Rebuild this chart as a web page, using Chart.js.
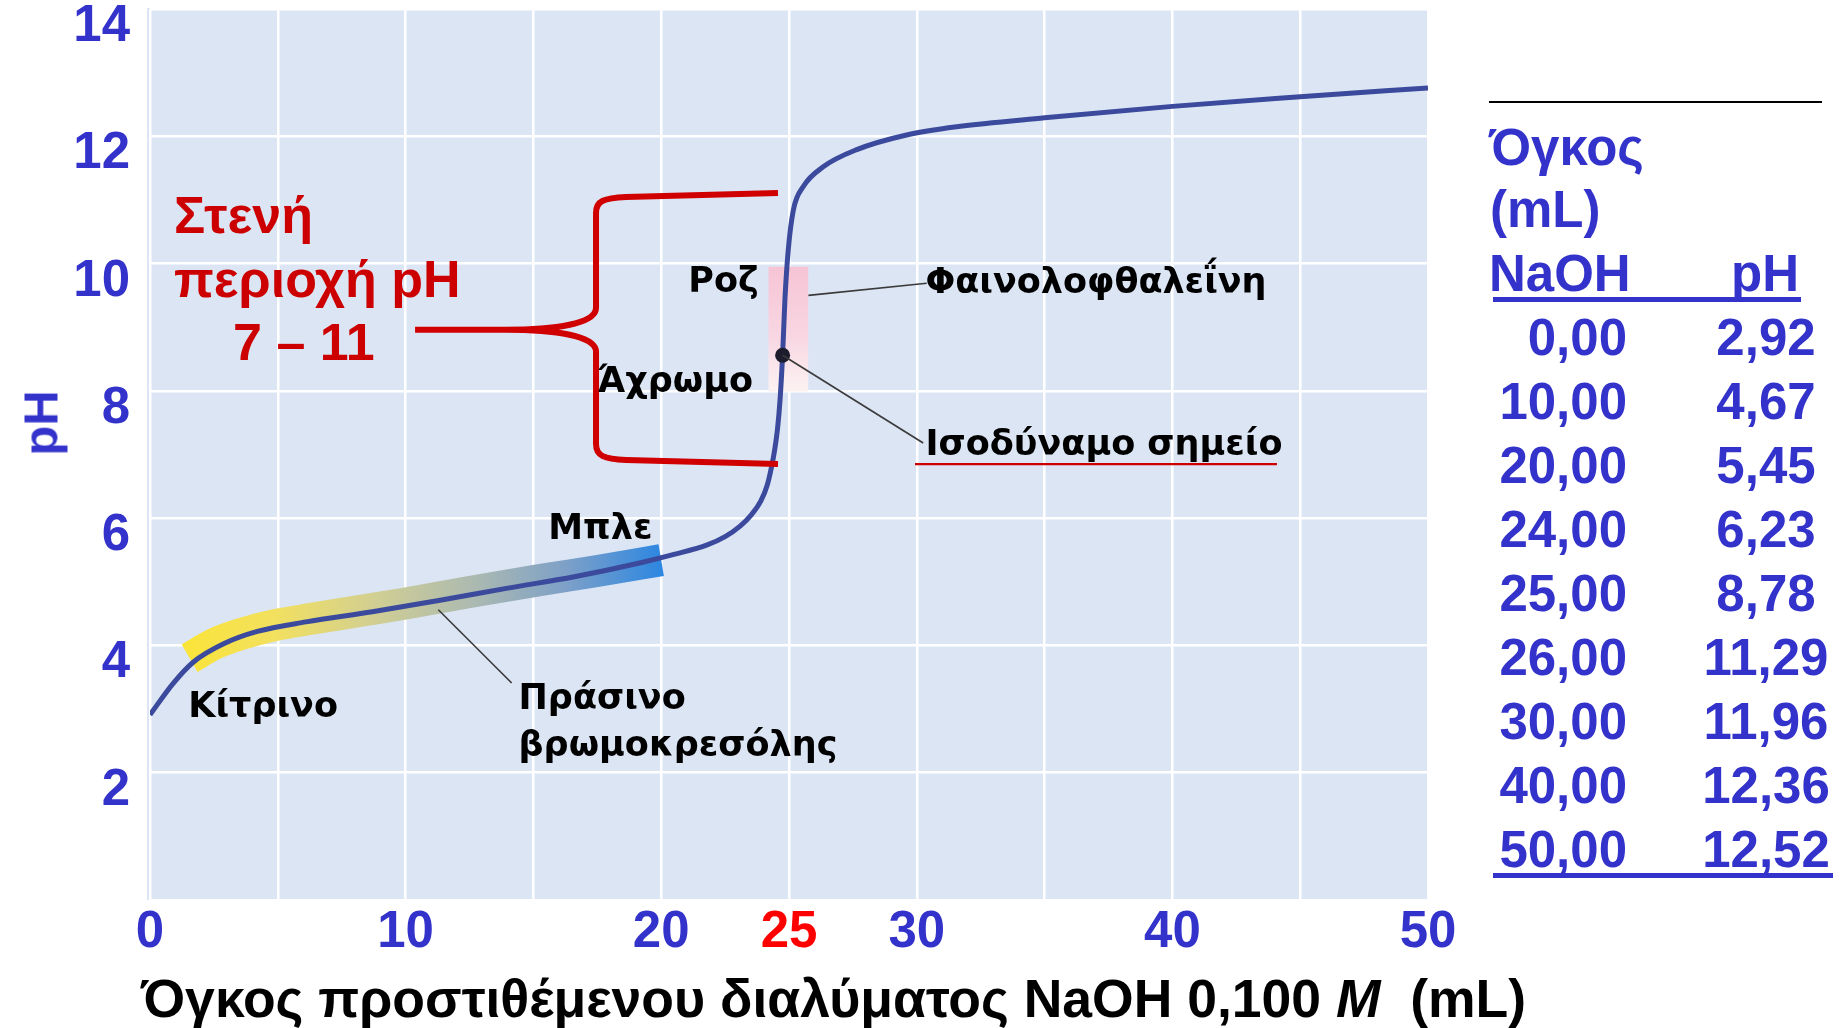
<!DOCTYPE html>
<html lang="el"><head><meta charset="utf-8">
<script src="https://cdn.jsdelivr.net/npm/chart.js@4.4.1/dist/chart.umd.min.js"></script>
<style>
html,body{margin:0;padding:0;background:#fff;}
#wrap{position:relative;width:1843px;height:1028px;overflow:hidden;background:#fff;}
#c{position:absolute;left:0;top:0;}
.ov{position:absolute;white-space:pre;line-height:1;margin:0;}
.sans{font-family:"Liberation Sans",Arial,sans-serif;font-weight:bold;}
.dv{font-family:"DejaVu Sans",sans-serif;font-weight:bold;}
.blue{color:#3333cc;}
.rule{position:absolute;}
</style></head><body>
<div id="wrap"><canvas id="c" width="1843" height="1028"></canvas></div>
<script>
// ---- data ----
const curveX  = [0, 0.9, 1.7, 2.9, 4.2, 6.1, 8.7, 11.35, 14.0, 16.6, 19.2, 20.5, 21.8, 22.5, 23.1, 23.5, 23.9, 24.15, 24.32, 24.45, 24.55, 24.65, 24.75, 24.84, 24.97, 25.17, 25.56, 26.34, 27.65, 29.6, 31.56, 35, 40, 45, 50];
const curvePH = [2.91, 3.40, 3.74, 4.03, 4.22, 4.37, 4.53, 4.71, 4.90, 5.08, 5.30, 5.43, 5.58, 5.71, 5.88, 6.04, 6.27, 6.52, 6.81, 7.10, 7.40, 7.86, 8.56, 9.43, 10.21, 10.84, 11.21, 11.52, 11.79, 12.02, 12.15, 12.29, 12.47, 12.62, 12.76];
const bandX   = [1.55, 2.5, 3.5, 4.8, 6.5, 8.5, 10.0, 12.5, 15.3, 17.5, 20.0];
const bandPH  = [3.80, 4.02, 4.17, 4.31, 4.43, 4.56, 4.66, 4.84, 5.03, 5.17, 5.34];
const phenolX  = [24.19, 25.76];
const phenolPH = [7.99, 9.95];
const eqPoint  = [24.75, 8.56];
const eqVolume = 25;
const xTickLabels = [0, 10, 20, 25, 30, 40, 50];
const yTickLabels = [2, 4, 6, 8, 10, 12, 14];
const tableVolume = [0, 10, 20, 24, 25, 26, 30, 40, 50];
const tablePH     = [2.92, 4.67, 5.45, 6.23, 8.78, 11.29, 11.96, 12.36, 12.52];
// brace (data units): tip, join x, spine x, end x, top pH, bottom pH
const braceTip = [10.37, 8.96];
const braceJoinX = 13.89, braceSpineX = 17.45, braceEndX = 24.57;
const braceTopPH = 11.11, braceBottomPH = 6.85;
const leaderLines = [[25.76, 9.50, 30.39, 9.69], [24.75, 8.56, 30.25, 7.18], [11.28, 4.56, 14.15, 3.41]];
const isoUnderline = [29.93, 44.09, 6.85];
const notes = [
  {t:'Στενή', x:0.94, y:10.48, col:'#cc0000', f:'sans', s:52},
  {t:'περιοχή pH', x:0.94, y:9.48, col:'#cc0000', f:'sans', s:52},
  {t:'7 – 11', x:3.25, y:8.49, col:'#cc0000', f:'sans', s:52},
  {t:'Ροζ', x:21.06, y:9.54, col:'#000', f:'dv', s:35},
  {t:'Φαινολοφθαλεΐνη', x:30.34, y:9.53, col:'#000', f:'dv', s:35},
  {t:'Άχρωμο', x:17.5, y:7.97, col:'#000', f:'dv', s:35},
  {t:'Ισοδύναμο σημείο', x:30.34, y:6.99, col:'#000', f:'dv', s:35},
  {t:'Μπλε', x:15.58, y:5.66, col:'#000', f:'dv', s:35},
  {t:'Κίτρινο', x:1.5, y:2.86, col:'#000', f:'dv', s:35},
  {t:'Πράσινο', x:14.42, y:2.99, col:'#000', f:'dv', s:35},
  {t:'βρωμοκρεσόλης', x:14.42, y:2.25, col:'#000', f:'dv', s:35}
];

const pts = (xs, ys) => xs.map((x, i) => ({x: x, y: ys[i]}));
const SANS = '"Liberation Sans", Arial, sans-serif';

function bandGradient(context) {
  const chart = context.chart;
  const {ctx, chartArea, scales} = chart;
  if (!chartArea || !scales.x) return '#c8c8a0';
  const x0 = scales.x.getPixelForValue(bandX[0]);
  const x1 = scales.x.getPixelForValue(bandX[bandX.length - 1]);
  const g = ctx.createLinearGradient(x0, 0, x1, 0);
  g.addColorStop(0.00, 'rgb(250,228,60)');
  g.addColorStop(0.18, 'rgb(242,224,95)');
  g.addColorStop(0.40, 'rgb(208,206,148)');
  g.addColorStop(0.60, 'rgb(172,186,176)');
  g.addColorStop(0.80, 'rgb(125,160,200)');
  g.addColorStop(1.00, 'rgb(45,135,225)');
  return g;
}
function pinkGradient(context) {
  const chart = context.chart;
  const {ctx, chartArea, scales} = chart;
  if (!chartArea || !scales.y) return 'rgba(245,200,215,0.9)';
  const y0 = scales.y.getPixelForValue(phenolPH[1]);
  const y1 = scales.y.getPixelForValue(phenolPH[0]);
  const g = ctx.createLinearGradient(0, y0, 0, y1);
  g.addColorStop(0, 'rgb(246,196,213)');
  g.addColorStop(0.55, 'rgb(248,214,226)');
  g.addColorStop(1, 'rgb(252,242,242)');
  return g;
}

const decor = {
  id: 'decor',
  beforeDraw(chart) {
    const {ctx, chartArea: a} = chart;
    ctx.save();
    ctx.fillStyle = '#dce5f4';
    ctx.fillRect(a.left - 3, a.top - 1, a.right - a.left + 3, a.bottom - a.top + 1);
    ctx.restore();
  },
  afterDatasetsDraw(chart) {
    const {ctx} = chart;
    const X = v => chart.scales.x.getPixelForValue(v);
    const Y = v => chart.scales.y.getPixelForValue(v);
    ctx.save();
    ctx.strokeStyle = '#3a3a3a'; ctx.lineWidth = 1.6;
    leaderLines.forEach(l => { ctx.beginPath(); ctx.moveTo(X(l[0]), Y(l[1])); ctx.lineTo(X(l[2]), Y(l[3])); ctx.stroke(); });
    ctx.strokeStyle = '#cc0000'; ctx.lineWidth = 2.2;
    ctx.beginPath(); ctx.moveTo(X(isoUnderline[0]), Y(isoUnderline[2])); ctx.lineTo(X(isoUnderline[1]), Y(isoUnderline[2])); ctx.stroke();
    const tx = X(braceTip[0]), my = Y(braceTip[1]), jx = X(braceJoinX), sx = X(braceSpineX), ex = X(braceEndX);
    const ty = Y(braceTopPH), by = Y(braceBottomPH);
    ctx.strokeStyle = '#d00000'; ctx.lineWidth = 6; ctx.lineJoin = 'round'; ctx.lineCap = 'butt';
    ctx.beginPath();
    ctx.moveTo(tx, my); ctx.lineTo(jx, my);
    ctx.bezierCurveTo(jx + 0.55 * (sx - jx), my, sx, my - 6, sx, my - 22);
    ctx.lineTo(sx, ty + 20);
    ctx.bezierCurveTo(sx, ty + 8, sx + 8, ty + 5, sx + 30, ty + 4);
    ctx.lineTo(ex, ty);
    ctx.moveTo(jx, my);
    ctx.bezierCurveTo(jx + 0.55 * (sx - jx), my, sx, my + 6, sx, my + 22);
    ctx.lineTo(sx, by - 20);
    ctx.bezierCurveTo(sx, by - 8, sx + 8, by - 5, sx + 30, by - 4);
    ctx.lineTo(ex, by);
    ctx.stroke();
    ctx.restore();
  }
};

const chart = new Chart(document.getElementById('c'), {
  type: 'line',
  data: {
    datasets: [
      {data: pts(phenolX, [phenolPH[1], phenolPH[1]]), borderWidth: 0, pointRadius: 0, fill: '+1', backgroundColor: pinkGradient, order: 6},
      {data: pts(phenolX, [phenolPH[0], phenolPH[0]]), borderWidth: 0, pointRadius: 0, fill: false, order: 6},
      {data: pts(bandX, bandPH), borderWidth: 32, borderColor: bandGradient, borderCapStyle: 'butt', pointRadius: 0, fill: false, cubicInterpolationMode: 'monotone', order: 4},
      {data: pts(curveX, curvePH), borderWidth: 5, borderColor: '#3b4a9c', pointRadius: 0, fill: false, cubicInterpolationMode: 'monotone', order: 1},
      {data: [{x: eqPoint[0], y: eqPoint[1]}], showLine: false, pointRadius: 7.5, pointBackgroundColor: '#1c1c2c', pointBorderWidth: 0, order: 0}
    ]
  },
  options: {
    responsive: false, animation: false, devicePixelRatio: 1,
    layout: {padding: {left: 0, top: 9, right: 415, bottom: 0}},
    plugins: {legend: {display: false}, tooltip: {enabled: false}},
    scales: {
      x: {
        type: 'linear', min: 0, max: 50,
        afterFit: s => { s.height = 128; s.paddingLeft = 0; s.paddingRight = 0; },
        grid: {color: '#ffffff', lineWidth: 2.5, drawTicks: false},
        border: {display: false},
        ticks: {
          stepSize: 5, autoSkip: false, maxRotation: 0, padding: 2,
          callback: v => xTickLabels.includes(v) ? String(v) : '',
          color: c => (c.tick && c.tick.value === eqVolume) ? '#ff0000' : '#3333cc',
          font: {family: SANS, size: 51, weight: 'bold'}
        }
      },
      y: {
        min: 0, max: 14,
        afterFit: s => { s.width = 150; s.paddingTop = 0; s.paddingBottom = 0; },
        grid: {color: '#ffffff', lineWidth: 2.5, drawTicks: false},
        border: {display: false},
        ticks: {
          stepSize: 2, padding: 20, labelOffset: 18,
          callback: v => yTickLabels.includes(v) ? String(v) : '',
          color: '#3333cc',
          font: {family: SANS, size: 51, weight: 'bold'}
        }
      }
    }
  },
  plugins: [decor]
});

// ---- HTML text overlays ----
const wrap = document.getElementById('wrap');
const BASE = 0.846;
function addText(text, cls, left, baseline, size, color, extra) {
  const d = document.createElement('div');
  d.className = 'ov ' + cls;
  d.textContent = text;
  d.style.left = left + 'px';
  d.style.top = (baseline - BASE * size) + 'px';
  d.style.fontSize = size + 'px';
  if (color) d.style.color = color;
  if (extra) Object.assign(d.style, extra);
  wrap.appendChild(d);
  return d;
}
const xs = chart.scales.x, ys = chart.scales.y;
notes.forEach(n => addText(n.t, n.f, xs.getPixelForValue(n.x), ys.getPixelForValue(n.y), n.s, n.col));

const xt = addText('', 'sans', 141, 1017, 53.5, '#000');
xt.innerHTML = 'Όγκος προστιθέμενου διαλύματος NaOH 0,100 <i>M</i>&nbsp;&nbsp;(mL)';
const yt = document.createElement('div');
yt.className = 'ov sans blue';
yt.textContent = 'pH';
yt.style.fontSize = '49px';
yt.style.left = '41px'; yt.style.top = '423px';
yt.style.transform = 'translate(-50%,-50%) rotate(-90deg)';
wrap.appendChild(yt);

function rule(left, top, w, h, color) {
  const r = document.createElement('div');
  r.className = 'rule';
  Object.assign(r.style, {left: left + 'px', top: top + 'px', width: w + 'px', height: h + 'px', background: color});
  wrap.appendChild(r);
}
rule(1489, 101, 333, 2, '#000');
addText('Όγκος', 'sans blue', 1489, 165, 51);
addText('(mL)', 'sans blue', 1490, 227, 51);
addText('NaOH', 'sans blue', 1489, 291, 51);
addText('pH', 'sans blue', 1731, 291, 51);
rule(1493, 297, 308, 5, '#3333cc');
const fmt = v => v.toFixed(2).replace('.', ',');
tableVolume.forEach((v, i) => {
  const b = 355 + i * 63.96;
  addText(fmt(v), 'sans blue', 0, b, 51, null, {left: 'auto', right: (1843 - 1627) + 'px', textAlign: 'right'});
  addText(fmt(tablePH[i]), 'sans blue', 1766, b, 51, null, {transform: 'translateX(-50%)'});
});
rule(1493, 873, 340, 5, '#3333cc');
</script>
</body></html>
